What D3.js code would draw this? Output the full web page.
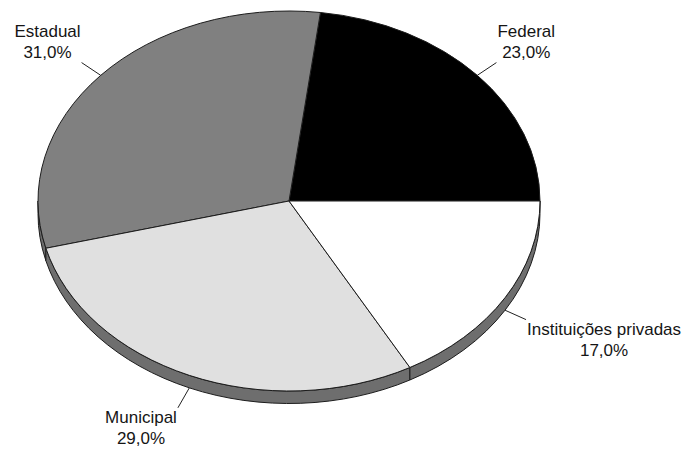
<!DOCTYPE html>
<html>
<head>
<meta charset="utf-8">
<script src="https://cdn.jsdelivr.net/npm/d3@7"></script>
<style>
  html, body { margin: 0; padding: 0; background: #fff; }
  svg { display: block; }
  text { font-family: "Liberation Sans", Arial, sans-serif; font-size: 17px; fill: #151515; }
</style>
</head>
<body>
<svg id="chart" width="686" height="450"></svg>
<script>
const categories = ["Federal", "Estadual", "Municipal", "Instituições privadas"];
const values = [23, 31, 29, 17];
const valueLabels = ["23,0%", "31,0%", "29,0%", "17,0%"];
const topColors = ["#000000", "#808080", "#e0e0e0", "#ffffff"];
const sideColors = ["#1a1a1a", "#6c6c6c", "#6e6e6e", "#6e6e6e"];

const W = 686, H = 450;
const cx = 289, cy = 201, rx = 251, ry = 190, depth = 12.5;
const TAU = Math.PI * 2;
const strokeColor = "#1c1c1c";

const svg = d3.select("#chart");
svg.append("rect").attr("width", W).attr("height", H).attr("fill", "#fff");

const pie = d3.pie().sort(null).value(d => d)
  .startAngle(Math.PI / 2).endAngle(Math.PI / 2 - TAU);
const arcs = pie(values);

function P(a, dy) {
  return [cx + rx * Math.sin(a), cy - ry * Math.cos(a) + (dy || 0)];
}

// Side walls (front half only)
const sideG = svg.append("g");
arcs.forEach((d, i) => {
  const lo = Math.min(d.startAngle, d.endAngle), hi = Math.max(d.startAngle, d.endAngle);
  for (let k = -2; k <= 2; k++) {
    const s = Math.max(lo + k * TAU, Math.PI / 2);
    const e = Math.min(hi + k * TAU, 3 * Math.PI / 2);
    if (e > s + 1e-6) {
      const p0 = P(s), p1 = P(e), p2 = P(e, depth), p3 = P(s, depth);
      const path = `M${p0[0]},${p0[1]} A${rx},${ry} 0 0 1 ${p1[0]},${p1[1]} L${p2[0]},${p2[1]} A${rx},${ry} 0 0 0 ${p3[0]},${p3[1]} Z`;
      sideG.append("path").attr("d", path)
        .attr("fill", sideColors[i])
        .attr("stroke", strokeColor).attr("stroke-width", 1)
        .attr("stroke-linejoin", "round");
    }
  }
});

// Top faces
const arcGen = d3.arc().innerRadius(0).outerRadius(rx);
const topG = svg.append("g").attr("transform", `translate(${cx},${cy}) scale(1,${ry / rx})`);
topG.selectAll("path").data(arcs).join("path")
  .attr("d", arcGen)
  .attr("fill", (d, i) => topColors[i])
  .attr("stroke", strokeColor)
  .attr("stroke-width", 1)
  .attr("vector-effect", "non-scaling-stroke")
  .attr("stroke-linejoin", "round");

// Leader lines and labels
const labelG = svg.append("g");
arcs.forEach((d, i) => {
  const a = (d.startAngle + d.endAngle) / 2;
  const front = -Math.cos(a) > 0;
  const p0 = P(a, front ? depth : 0);
  let vx = rx * Math.sin(a), vy = -ry * Math.cos(a);
  const len = Math.hypot(vx, vy);
  vx = vx / len * 23; vy = vy / len * 23;
  const p1 = [p0[0] + vx, p0[1] + vy];
  labelG.append("line")
    .attr("x1", p0[0]).attr("y1", p0[1]).attr("x2", p1[0]).attr("y2", p1[1])
    .attr("stroke", "#222").attr("stroke-width", 1);

  const g = labelG.append("g");
  const t1 = g.append("text").attr("text-anchor", "middle").text(categories[i]);
  const t2 = g.append("text").attr("text-anchor", "middle").text(valueLabels[i]);
  const w = Math.max(t1.node().getComputedTextLength(), t2.node().getComputedTextLength());
  const right = Math.sin(a) > 0;
  const upper = Math.cos(a) > 0;
  const tx = right ? p1[0] + w / 2 + 1 : p1[0] - w / 2 - 1;
  let b1, b2;
  if (upper) { b2 = p1[1] - 5; b1 = b2 - 21; }
  else { b1 = p1[1] + 15.5; b2 = b1 + 21; }
  t1.attr("x", tx).attr("y", b1);
  t2.attr("x", tx).attr("y", b2);
});
</script>
</body>
</html>
